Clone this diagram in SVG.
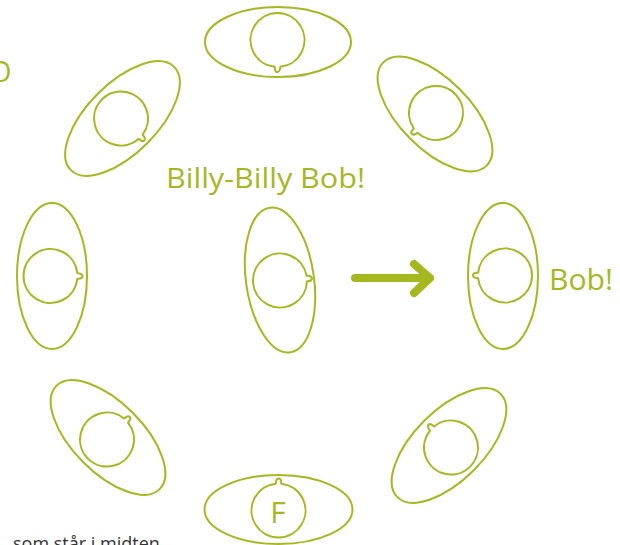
<svg xmlns="http://www.w3.org/2000/svg" width="620" height="545" viewBox="0 0 620 545">
<defs>
<style>
.ell{fill:none;stroke:#A5B81F;stroke-width:2}
.head{fill:none;stroke:#A5B81F;stroke-width:2;stroke-linejoin:round}
.lbl{font-family:"Open Sans","Noto Sans","DejaVu Sans",sans-serif;fill:#A5B81F}
.note{font-family:"Open Sans","Noto Sans","DejaVu Sans",sans-serif;fill:#333333;font-size:18px}
</style>
<path id="head" class="head" d="M26.85,-2.82 A27,27 0 1 0 26.85,2.82 C28.5,2.6 32,3 32,0.2 C32,-2.6 28.5,-2.6 26.85,-2.82 Z"/>
</defs>
<rect width="620" height="545" fill="#ffffff"/>
<text class="lbl" x="-11" y="82" font-size="29">O</text>
<g id="connectors">
<path d="M355,278 H430 M414,264 L430,278 L414,293" fill="none" stroke="#A5B81F" stroke-width="8" stroke-linecap="round" stroke-linejoin="round"/>
</g>
<g id="p-top">
<ellipse class="ell" cx="278" cy="42" rx="73" ry="35"/>
<use href="#head" transform="translate(277.5,40) rotate(90)"/>
</g>
<g id="p-topright">
<ellipse class="ell" cx="435" cy="114" rx="73" ry="35" transform="rotate(45 435 114)"/>
<use href="#head" transform="translate(436,113) rotate(139)"/>
</g>
<g id="p-topleft">
<ellipse class="ell" cx="122.5" cy="118.5" rx="73" ry="35" transform="rotate(-45 122.5 118.5)"/>
<use href="#head" transform="translate(121,118.5) rotate(43)"/>
</g>
<g id="p-left">
<ellipse class="ell" cx="52" cy="276" rx="35" ry="73"/>
<use href="#head" transform="translate(50.5,276) rotate(0)"/>
</g>
<g id="p-middle">
<ellipse class="ell" cx="280" cy="280" rx="34" ry="73" transform="rotate(-8 280 280)"/>
<use href="#head" transform="translate(280,280.5) rotate(-4)"/>
</g>
<g id="p-right">
<ellipse class="ell" cx="503" cy="276" rx="35" ry="73"/>
<use href="#head" transform="translate(505,275.5) rotate(180)"/>
</g>
<g id="p-bottomleft">
<ellipse class="ell" cx="108" cy="437.5" rx="73" ry="35" transform="rotate(45 108 437.5)"/>
<use href="#head" transform="translate(107,439.5) rotate(-45)"/>
</g>
<g id="p-bottomright">
<ellipse class="ell" cx="449" cy="445.5" rx="73" ry="35" transform="rotate(-45 449 445.5)"/>
<use href="#head" transform="translate(451,447.5) rotate(-135)"/>
</g>
<g id="p-bottom">
<ellipse class="ell" cx="278.5" cy="509.5" rx="74" ry="34.5"/>
<use href="#head" transform="translate(278.5,510.5) rotate(-90)"/>
<text class="lbl" x="278" y="523" font-size="30" text-anchor="middle">F</text>
</g>
<text class="lbl" x="166" y="188" font-size="28" textLength="199" lengthAdjust="spacingAndGlyphs">Billy-Billy Bob!</text>
<text class="lbl" x="549" y="290" font-size="29" textLength="64" lengthAdjust="spacingAndGlyphs">Bob!</text>
<text class="note" x="13" y="550">som står i midten</text>
</svg>
